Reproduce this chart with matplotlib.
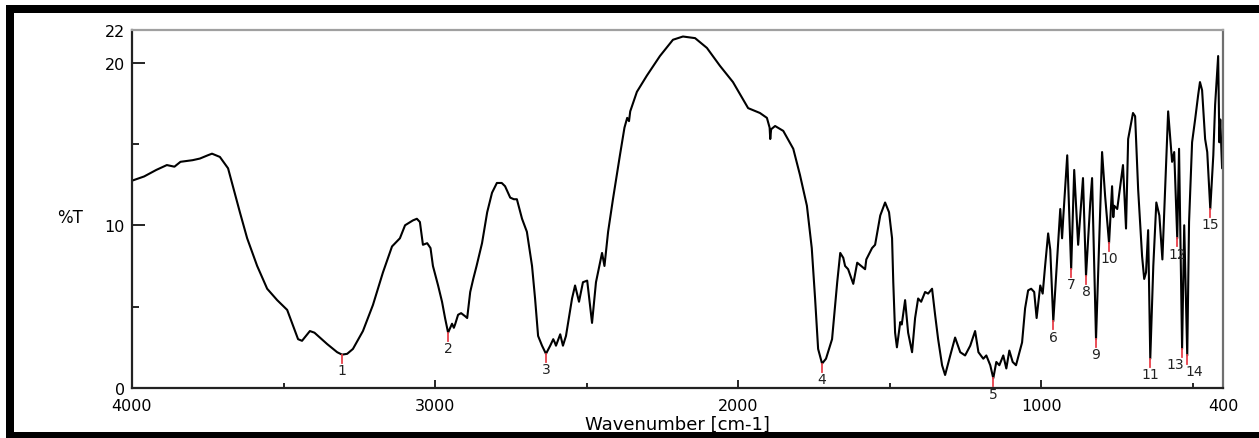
import numpy as np
import matplotlib.pyplot as plt
from matplotlib.lines import Line2D
from matplotlib.ticker import FixedLocator

# IR spectrum (wavenumber in cm-1, transmittance in %T)
wavenumber = [4000, 3960, 3920, 3885, 3860, 3840, 3800, 3776, 3750, 3736,
              3710, 3683, 3667, 3644, 3620, 3587, 3554, 3521, 3488, 3468,
              3452, 3439, 3413, 3398, 3356, 3323, 3307, 3290, 3271, 3238,
              3205, 3172, 3142, 3116, 3099, 3073, 3060, 3050, 3040, 3026,
              3015, 3007, 2990, 2977, 2967, 2957, 2944, 2938, 2934, 2924,
              2914, 2900, 2894, 2884, 2874, 2863, 2845, 2828, 2812, 2796,
              2780, 2769, 2752, 2740, 2730, 2713, 2697, 2680, 2670, 2660,
              2647, 2634, 2620, 2610, 2605, 2601, 2587, 2578, 2568, 2548,
              2538, 2525, 2512, 2498, 2482, 2469, 2449, 2441, 2429, 2413,
              2390, 2375, 2366, 2360, 2356, 2334, 2301, 2258, 2215, 2182,
              2142, 2103, 2060, 2017, 1967, 1928, 1905, 1896, 1894, 1891,
              1878, 1851, 1818, 1796, 1773, 1757, 1746, 1736, 1723, 1710,
              1690, 1673, 1663, 1653, 1647, 1637, 1620, 1607, 1594, 1581,
              1577, 1558, 1548, 1531, 1515, 1502, 1492, 1488, 1482, 1476,
              1465, 1460, 1449, 1439, 1426, 1416, 1406, 1396, 1383, 1373,
              1360, 1350, 1340, 1327, 1317, 1300, 1284, 1267, 1251, 1234,
              1218, 1207, 1191, 1181, 1168, 1158, 1148, 1138, 1125, 1115,
              1105, 1094, 1083, 1063, 1053, 1043, 1033, 1023, 1015, 1003,
              995, 987, 977, 970, 960, 947, 937, 931, 927, 914,
              901, 891, 878, 862, 852, 838, 832, 819, 799, 789,
              776, 766, 762, 759, 749, 730, 720, 713, 697, 690,
              680, 667, 660, 654, 647, 640, 630, 620, 610, 600,
              581, 568, 561, 551, 545, 535, 528, 518, 512, 502,
              492, 482, 476, 469, 459, 452, 442, 432, 426, 416,
              412, 409, 403, 400]
transmittance = [12.74, 13.0, 13.4, 13.7, 13.6, 13.9, 14.0, 14.1, 14.3, 14.4,
                 14.2, 13.5, 12.4, 10.8, 9.2, 7.5, 6.1, 5.4, 4.8, 3.8,
                 3.0, 2.9, 3.5, 3.4, 2.7, 2.2, 2.05, 2.1, 2.4, 3.5,
                 5.1, 7.1, 8.7, 9.2, 10.0, 10.3, 10.4, 10.2, 8.8, 8.9,
                 8.6, 7.5, 6.3, 5.3, 4.3, 3.4, 3.95, 3.7, 3.9, 4.5,
                 4.6, 4.4, 4.3, 5.9, 6.7, 7.5, 8.9, 10.8, 12.0, 12.6,
                 12.6, 12.4, 11.7, 11.6, 11.6, 10.4, 9.6, 7.5, 5.5, 3.2,
                 2.6, 2.1, 2.6, 3.0, 2.8, 2.6, 3.3, 2.6, 3.2, 5.5,
                 6.3, 5.3, 6.5, 6.6, 4.0, 6.5, 8.3, 7.5, 9.6, 11.6,
                 14.3, 16.0, 16.6, 16.4, 17.0, 18.2, 19.2, 20.4, 21.4, 21.6,
                 21.5, 20.9, 19.8, 18.8, 17.2, 16.9, 16.6, 16.0, 15.3, 15.9,
                 16.1, 15.8, 14.7, 13.1, 11.2, 8.6, 5.5, 2.4, 1.5, 1.8,
                 3.0, 6.5, 8.3, 8.0, 7.5, 7.3, 6.4, 7.7, 7.5, 7.3,
                 7.9, 8.6, 8.8, 10.6, 11.4, 10.8, 9.2, 6.5, 3.4, 2.5,
                 4.05, 3.9, 5.4, 3.4, 2.2, 4.3, 5.5, 5.3, 5.9, 5.8,
                 6.1, 4.5, 3.0, 1.4, 0.8, 2.0, 3.1, 2.2, 2.0, 2.6,
                 3.5, 2.2, 1.8, 2.0, 1.4, 0.6, 1.6, 1.4, 2.0, 1.2,
                 2.3, 1.6, 1.4, 2.8, 4.9, 6.0, 6.1, 5.9, 4.3, 6.3,
                 5.8, 7.5, 9.5, 8.5, 4.1, 8.0, 11.0, 9.2, 10.5, 14.3,
                 7.3, 13.4, 8.8, 12.9, 6.9, 11.4, 12.9, 3.0, 14.5, 11.8,
                 8.9, 12.4, 10.5, 11.2, 11.0, 13.7, 9.8, 15.3, 16.9, 16.7,
                 12.2, 8.1, 6.7, 7.1, 9.7, 1.8, 7.5, 11.4, 10.6, 7.9,
                 17.0, 13.9, 14.5, 9.2, 14.7, 2.4, 10.0, 2.0, 10.2, 15.1,
                 16.5, 18.0, 18.8, 18.3, 15.3, 14.5, 11.0, 14.3, 17.4, 20.4,
                 15.1, 16.5, 13.5, 13.5]

# picked peaks (numbered minima)
peak_labels = ['1', '2', '3', '4', '5', '6', '7', '8', '9', '10',
               '11', '12', '13', '14', '15']
peak_wn = [3307, 2957, 2634, 1723, 1158, 960, 901, 852, 819, 776,
           640, 551, 535, 518, 442]
peak_T = [2.05, 3.4, 2.1, 1.5, 0.6, 4.1, 7.3, 6.9, 3.0, 8.9,
          1.8, 9.2, 2.4, 2.0, 11.0]

x_major = [4000, 3000, 2000, 1000, 400]
x_minor = [3500, 2500, 1500, 500]
y_major = [0, 10, 20, 22]
y_minor = [5, 15]

fig = plt.figure(figsize=(12.59, 4.39), dpi=100)
ax = fig.add_axes([132 / 1259, 1 - 389 / 439, 1091 / 1259, 358 / 439])

ax.plot(wavenumber, transmittance, color='black', lw=1.5)

# red pick marks and numbers (13 and 14 crowd each other, as in the original)
nudge = {'13': -5, '14': 5}
for lab, w, t in zip(peak_labels, peak_wn, peak_T):
    ax.plot([w, w], [t, t - 0.5], color='#e8404a', lw=1.3)
    ax.annotate(lab, (w, t), xytext=(nudge.get(lab, 0), -11),
                textcoords='offset points', ha='center', va='center',
                fontsize=10, color='#222222', annotation_clip=False)

ax.set_xlim(4000, 400)
ax.set_ylim(0, 22)
ax.xaxis.set_major_locator(FixedLocator(x_major))
ax.xaxis.set_minor_locator(FixedLocator(x_minor))
ax.yaxis.set_major_locator(FixedLocator(y_major))
ax.yaxis.set_minor_locator(FixedLocator(y_minor))
ax.tick_params(axis='y', which='major', direction='in', length=9.5, width=1.2,
               pad=5, labelsize=11.5)
ax.tick_params(axis='y', which='minor', direction='in', length=5, width=1.2)
ax.tick_params(axis='x', which='major', direction='in', length=6, width=1.2,
               pad=7.5, labelsize=11.5)
ax.tick_params(axis='x', which='minor', direction='in', length=3.5, width=1.2)

for s in ['left', 'bottom']:
    ax.spines[s].set_color('#222222')
    ax.spines[s].set_linewidth(1.6)
ax.spines['top'].set_color('#a0a0a0')
ax.spines['top'].set_linewidth(1.6)
ax.spines['right'].set_color('#707070')
ax.spines['right'].set_linewidth(1.6)

ax.set_xlabel('Wavenumber [cm-1]', fontsize=13, labelpad=1)
fig.text(70 / 1259, 1 - 218 / 439, '%T', fontsize=12, ha='center', va='center')

# thick black frame round the picture (left, top, bottom)
lw_frame = 8 * 72 / 100
fig.add_artist(Line2D([10 / 1259, 10 / 1259], [0, 1 - 6 / 439], color='black',
                      lw=lw_frame, transform=fig.transFigure, solid_capstyle='butt'))
fig.add_artist(Line2D([6 / 1259, 1], [1 - 10 / 439, 1 - 10 / 439], color='black',
                      lw=lw_frame, transform=fig.transFigure, solid_capstyle='butt'))
fig.add_artist(Line2D([6 / 1259, 1], [1 - 437 / 439, 1 - 437 / 439], color='black',
                      lw=lw_frame, transform=fig.transFigure, solid_capstyle='butt'))

fig.savefig('out.png', dpi=100)
